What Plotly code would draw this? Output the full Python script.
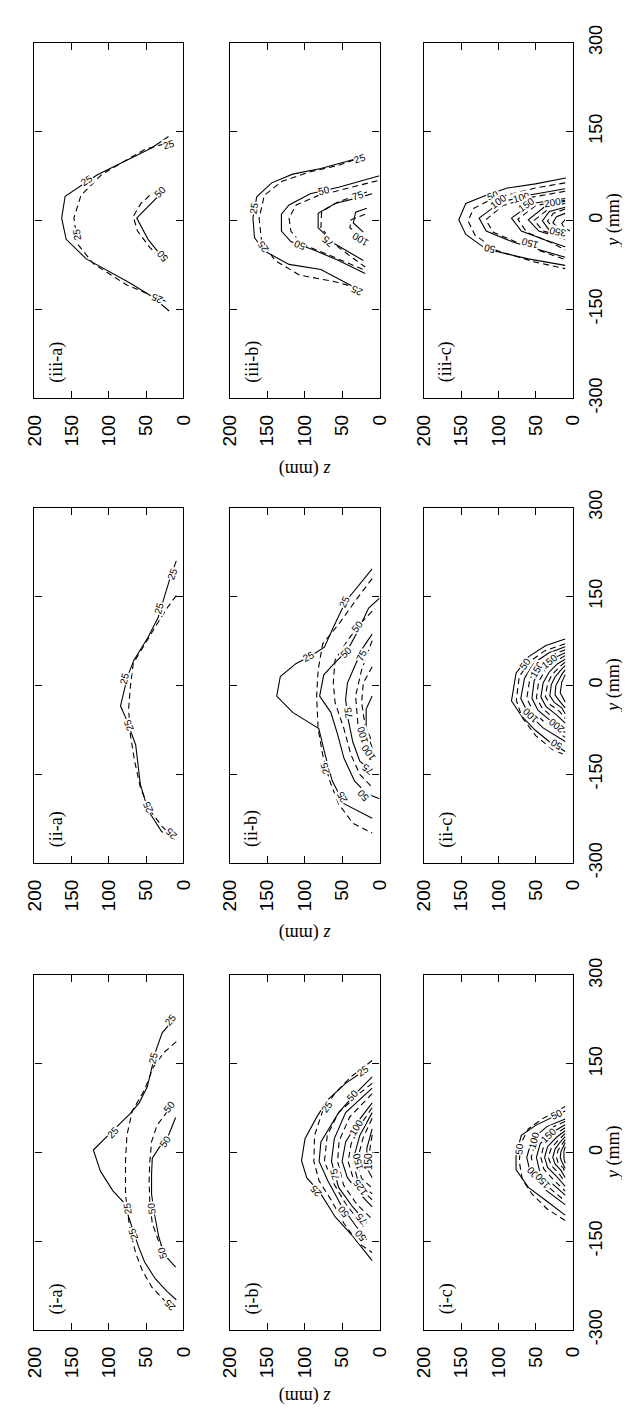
import math
import plotly.graph_objects as go

# ---------------- data: contour lines, (z mm, y mm) pairs ----------------
# level / style encoded in the name: S = solid, D = dashed
Z_TICKS = [0, 50, 100, 150, 200]
Y_TICKS = [-300, -150, 0, 150, 300]

# ----- panel (i-a)
IA_S25 = [(11.9,227.3),(28.4,202.6),(37,172.3),(43.6,139.3),(48.3,111.7),(59.3,84.2),(72,65),(92.4,40.2),
          (120.9,4.4),(111.4,-31.4),(94.8,-64.4),(80.6,-83.7),(74.9,-103),(68,-130),(60,-160),(52,-185),
          (38,-213),(22,-235),(9.5,-249)]
IA_D25 = [(9.5,187.7),(26,169.5),(40.3,144.8),(52.1,106.2),(68.7,70.4),(75.8,29.2),(77.7,-14.9),(77.7,-70),
          (73.5,-114),(70,-140),(64,-170),(55,-200),(42,-228),(24,-252)]
IA_S50 = [(10.4,59.4),(19,32),(33.2,7.1),(41.7,-9.4),(42.7,-37),(42.7,-70),(38.9,-103),(33.2,-141.5),
          (26,-171.8),(10.4,-193.8)]
IA_D50 = [(13.3,84.2),(24.6,65),(35.5,45.7),(42.7,18.1),(45,-14.9),(46,-48),(45,-86.5),(41.7,-119.5),
          (34.1,-147),(21.3,-174.5)]
IA_LABELS = [("25",16.6,224.6),("25",40.3,161),("25",94.8,34.7),("25",74.9,-94.7),("25",68,-138),
             ("25",19,-258),("50",19,78.7),("50",23.7,18),("50",42.5,-94.7),("50",28.4,-169)]

# ----- panel (ii-a)
IIA_S25 = [(9.5,210),(18,180),(26,147),(34,114),(47.4,81),(66.4,42.4),(74.9,15),(84.4,-34.7),(76.8,-56.7),
           (64,-100.8),(57.8,-166.8),(47.4,-211),(29.4,-246.6),(11.9,-260.4)]
IIA_D25 = [(9.5,151.4),(22,130),(35.5,103),(54.5,64.4),(67.3,37),(71.1,-1.7),(73.5,-40.2),(71.1,-84),
           (65.4,-128.3),(57.8,-172.3),(45,-210.9),(28.4,-238.4),(10.4,-260.4)]
IIA_LABELS = [("25",14,188),("25",33,130),("25",79.6,12),("25",73.5,-67.7),("25",47.4,-205),("25",16.6,-250)]

# ----- panel (iii-a)
IIIA_S25 = [(19.9,141.5),(42.7,122.2),(116,76.5),(158.8,40.7),(163.5,3.8),(157.4,-32),(130.4,-65),
            (71.1,-106),(42.7,-128),(19,-153)]
IIIA_D25 = [(26,129),(52,119.5),(109,78),(137.5,42.4),(147,4),(142,-40),(121,-73),(76,-109),(19,-139)]
IIIA_S50 = [(23.7,53.4),(45,26),(62.6,3.8),(47.4,-32),(28.4,-62)]
IIIA_D50 = [(35.5,53.4),(57,28.6),(67.3,6.6),(61.6,-18),(45,-45.7),(30.8,-65)]
IIIA_LABELS = [("25",19,128),("25",130,67),("25",143,-23.7),("25",35.5,-131),("50",30.8,49),("50",28.4,-59.5)]

# ----- panel (i-b)
IB_S25 = [(17,142),(45.3,117.2),(68.9,89.7),(83,62.2),(99.5,23.7),(104.2,-13.8),(97.2,-42.4),(78.3,-69.9),
          (59.4,-108.5),(35.8,-141.5),(9.9,-182.8)]
IB_D25 = [(9.9,155.8),(38.2,128.2),(59.4,100.7),(75.9,70.4),(86.8,29.2),(87.7,-14.9),(80.7,-47.9),(64.2,-81),
          (47.6,-119.5),(28.8,-152.5),(9.9,-169)]
IB_S50 = [(9.9,128.2),(33.5,98),(54.7,67.7),(78.3,18.1),(80.7,-14.9),(68.9,-47.9),(50,-92),(31.1,-125),(17,-147)]
IB_D50 = [(9.9,117.2),(26.4,100.7),(54.7,67.7),(69.8,29.2),(73.6,-14.9),(63.2,-47.9),(45.3,-86.5),(21.7,-125)]
IB_S75 = [(9.9,109),(45.3,67.7),(60.4,23.7),(64.2,-14.9),(54.7,-58.9),(35.8,-92),(17,-119.5)]
IB_D75 = [(9.9,100),(40,60),(54,20),(56,-15),(48,-55),(30,-88),(12,-110)]
IB_S100 = [(9.9,84.2),(26.4,56.7),(45.3,18.1),(50,-14.9),(42.9,-42.4),(26.4,-69.9),(9.9,-92)]
IB_D100 = [(9.9,76),(24,50),(38,15),(42,-15),(36,-40),(22,-65),(9.9,-80)]
IB_S125 = [(9.9,67.7),(26.4,29.2),(35.8,-14.9),(28.8,-47.9),(9.9,-69.9)]
IB_D125 = [(9.9,58),(22,25),(30,-14),(24,-44),(9.9,-60)]
IB_S150 = [(9.9,40.2),(17,7.1),(17,-25.9),(9.9,-42.4)]
IB_D150 = [(9.9,30),(13,5),(13,-20),(9.9,-32)]
IB_LABELS = [("25",21.7,139.3),("25",70,78),("50",36,96),("100",31,42),("150",29,-14.9),("150",14.6,-14.9),
             ("75",60,-37),("125",26,-60),("25",86,-65),("50",48,-100),("75",24,-112),("50",26,-140)]

# ----- panel (ii-b)
IIB_S25 = [(9.9,196.5),(28.8,167.9),(45.3,141.5),(61.8,97.4),(73.6,64.4),(92.5,49),(111.3,36.9),(132.5,14.8),
           (137.3,-18.2),(116,-45.7),(92.5,-65),(81.1,-73.2),(72.6,-117.3),(63.2,-161.3),(47.6,-199.9),(9.9,-224.6)]
IIB_D25 = [(9.9,180),(26.4,152.5),(54.7,103),(75.9,70),(82,25.9),(84,-18.2),(82,-73.2),(75.9,-117.3),
           (66.5,-161.3),(54.7,-199.9),(35.8,-232.9),(9.9,-249.4)]
IIB_S50 = [(0,147),(14.6,130.4),(28.8,91.9),(42.9,58.9),(60.4,36.9),(74.5,17.6),(80,-18.2),(65.1,-45.7),
           (55.7,-84.2),(47.6,-122.8),(33.5,-161.3),(17,-183.3),(0,-191.6)]
IIB_D50 = [(9.9,125),(26.4,103),(42.9,75.4),(59.4,42.4),(61.8,3.8),(59.4,-29.2),(47.6,-73.2),(38.2,-117.3),
           (26.4,-150.3),(9.9,-172.3)]
IIB_S75 = [(9.9,86.4),(21.7,64.4),(33.5,31.4),(42.9,3.8),(45.3,-23.7),(42.9,-51.2),(35.8,-95.3),(26.4,-128.3),
           (9.9,-144.8)]
IIB_D75 = [(9.9,75.4),(24,26),(32,-18.2),(28.8,-67.7),(19.3,-111.8),(9.9,-128.3)]
IIB_S100 = [(9.9,-18.2),(17.9,-40.2),(17.9,-73.2),(9.9,-106)]
IIB_D100 = [(9.9,31.4),(21.7,3.8),(24,-29.2),(19.3,-67.7),(9.9,-95.3)]
IIB_LABELS = [("25",47,142),("25",94.8,48),("50",30,100),("50",45.3,56),("75",24,50),("75",42,-45.7),
              ("100",23,-84.2),("100",15,-114.5),("75",16,-142),("25",73,-140),("25",50,-188),("50",22,-185)]

# ----- panel (iii-b)
IIIB_S25 = [(31,104),(78.3,87.5),(116,78),(144,63.3),(164,39.6),(169,3.8),(167,-29),(154.7,-51),(120.8,-74.3),
            (78.3,-83),(47.6,-103.5),(31,-114.5)]
IIIB_D25 = [(21.7,107.3),(54.7,93),(92.5,82),(130,66),(153.8,42.4),(160.8,3.8),(157.5,-34.7),(139.6,-67.7),
            (106.6,-92.5),(59.4,-103.5),(35.8,-111.8)]
IIIB_S50 = [(0,75.4),(54.7,56),(92.5,45),(120.8,26),(131,10.4),(131,-18),(118.4,-35.8),(87.7,-50),(54.7,-67.7),
            (19.3,-89.8)]
IIIB_D50 = [(2.8,67),(45.3,53.4),(83,41.3),(111.3,26),(120.8,3.8),(118.4,-18),(104,-40),(68.9,-57.8),(21.7,-83)]
IIIB_S75 = [(10,45),(24,39.6),(59.4,28.6),(82,12),(82,-12.7),(59.4,-40),(21.7,-67.7)]
IIIB_D75 = [(17,48),(54.7,31.4),(77.4,15),(78.3,-12.7),(54.7,-45.7),(19.3,-78.7)]
IIIB_S100 = [(17,20.4),(32,13.7),(35,-4.4),(21.7,-20)]
IIIB_D100 = [(19.3,10.4),(38.2,1),(39.6,-12.7),(28.8,-21)]
IIIB_LABELS = [("25",26.4,104),("50",73.6,50.6),("75",28.8,42.4),("25",168,20.4),("100",26.4,-32),
               ("75",68.9,-34.7),("50",106.6,-42),("25",156,-45),("25",31,-117.3)]

# ----- panel (i-c)
IC_S50 = [(10.4,70.4),(50.5,45.7),(69.3,29.2),(76.4,-3.9),(76.4,-28.6),(59.9,-58.9),(36.3,-81),(10.4,-105.7)]
IC_D50 = [(10.4,78),(40,58),(60,40),(70,15),(72,-15),(68,-45),(55,-70),(35,-95),(10.4,-115)]
IC_S100 = [(10.4,57),(35,44),(55,22),(62,-8),(57,-35),(40,-60),(10.4,-88)]
IC_D100 = [(10.4,53),(32,40),(50,20),(56,-8),(51,-33),(35,-56),(10.4,-82)]
IC_S150 = [(10.4,47),(28,34),(44,15),(49,-8),(45,-30),(30,-50),(10.4,-72)]
IC_D150 = [(10.4,42),(25,30),(39,13),(43,-8),(39,-28),(26,-46),(10.4,-65)]
IC_S200 = [(10.4,37),(22,26),(34,10),(38,-8),(34,-25),(22,-40),(10.4,-57)]
IC_D200 = [(10.4,32),(19,22),(29,8),(33,-8),(29,-22),(19,-35),(10.4,-50)]
IC_S250 = [(10.4,27),(17,18),(24,6),(27,-8),(24,-19),(16,-30),(10.4,-42)]
IC_D250 = [(10.4,22),(15,14),(20,4),(22,-8),(20,-17),(13,-26),(10.4,-35)]
IC_S300 = [(10.4,17),(13,10),(16,2),(17,-8),(15,-15),(10.4,-27)]
IC_S350 = [(10.4,10),(12,2),(12,-10),(10.4,-18)]
IC_LABELS = [("50",22,64),("50",72,7),("100",52,20),("150",33,29),("100",52,-38),("150",40,-48)]

# ----- panel (ii-c)
IIC_S50 = [(10.4,78),(36.3,67),(59.9,47.9),(76.4,20.3),(82.5,-26.5),(69.3,-51.2),(50.5,-76),(31.6,-95.3),(10.4,-111.8)]
IIC_D50 = [(10.4,70),(38,58),(58,40),(72,15),(76,-25),(68,-55),(50,-85),(28,-108),(10.4,-118)]
IIC_S100 = [(10.4,65),(32,55),(52,38),(65,12),(70,-22),(60,-48),(40,-72),(10.4,-95)]
IIC_D100 = [(10.4,60),(30,50),(47,34),(58,10),(62,-22),(53,-45),(35,-66),(10.4,-88)]
IIC_S150 = [(10.4,55),(27,45),(42,30),(52,8),(55,-22),(47,-42),(30,-60),(10.4,-80)]
IIC_D150 = [(10.4,50),(24,40),(37,26),(46,6),(49,-21),(41,-39),(26,-55),(10.4,-72)]
IIC_S200 = [(10.4,44),(21,36),(32,22),(40,4),(43,-20),(36,-36),(22,-50),(10.4,-64)]
IIC_D200 = [(10.4,39),(18,31),(28,18),(34,3),(37,-19),(30,-33),(18,-44),(10.4,-56)]
IIC_S250 = [(10.4,33),(16,26),(24,14),(29,1),(31,-18),(25,-29),(15,-38),(10.4,-48)]
IIC_S300 = [(10.4,26),(14,20),(19,9),(23,-1),(24,-16),(19,-25),(10.4,-38)]
IIC_S350 = [(10.4,18),(15,5),(17,-13),(13,-22),(10.4,-28)]
IIC_LABELS = [("50",64,37),("150",48,26),("150",31.6,40),("100",57,-51),("200",22,-68),("50",22,-100)]

# ----- panel (iii-c)
IIIC_S50 = [(9.4,71.5),(50.5,61.6),(88.2,54.5),(116.5,42.4),(143.9,28.6),(153.3,1),(143.9,-23.7),(116.5,-48.5),
            (59.9,-65),(10.4,-76)]
IIIC_D50 = [(10.4,63.3),(50.5,54.5),(107,36.9),(133,20.4),(141,-0.6),(131.6,-24.8),(102.4,-51),(50.5,-70.5),(10.4,-81.5)]
IIIC_S100 = [(10.4,53.4),(59.9,42.4),(97.6,30.3),(126,3.8),(116.5,-18),(78.8,-37.5),(10.4,-62.2)]
IIIC_D100 = [(10.4,49),(59.9,38),(94,25),(117,1),(107,-20),(70,-40),(10.4,-66)]
IIIC_S150 = [(10.4,36.9),(55.2,28.6),(82.5,3.8),(69.3,-18),(36.3,-33.6),(10.4,-44.6)]
IIIC_D150 = [(10.4,34),(50,25),(74,2),(62,-20),(30,-37),(10.4,-50)]
IIIC_S200 = [(10.4,32.4),(36.3,24.7),(59.9,1),(45.8,-18),(10.4,-32)]
IIIC_D200 = [(10.4,29),(32,20),(52,0),(40,-18),(10.4,-28)]
IIIC_S250 = [(10.4,22),(31.6,15),(40.9,-0.6),(31.6,-17),(10.4,-22)]
IIIC_D250 = [(10.4,19),(26,12),(34,-1),(26,-15),(10.4,-19)]
IIIC_S300 = [(10.4,11.8),(22,6),(26.9,-4),(19,-14),(10.4,-15)]
IIIC_S350 = [(10.4,1),(15,-5),(12,-12),(4,-18)]
IIIC_LABELS = [("50",107,42.4),("100",100,31.4),("100",69.3,38),("150",62.3,26),("200",27,30),("350",20,-20),
               ("150",58,-38),("50",112,-48.5)]

PANEL_NAMES = {"i-a": "(i-a)", "ii-a": "(ii-a)", "iii-a": "(iii-a)",
               "i-b": "(i-b)", "ii-b": "(ii-b)", "iii-b": "(iii-b)",
               "i-c": "(i-c)", "ii-c": "(ii-c)", "iii-c": "(iii-c)"}

PANELS = {
    "i-a": ([(IA_S25, 0), (IA_D25, 1), (IA_S50, 0), (IA_D50, 1)], IA_LABELS),
    "ii-a": ([(IIA_S25, 0), (IIA_D25, 1)], IIA_LABELS),
    "iii-a": ([(IIIA_S25, 0), (IIIA_D25, 1), (IIIA_S50, 0), (IIIA_D50, 1)], IIIA_LABELS),
    "i-b": ([(IB_S25, 0), (IB_D25, 1), (IB_S50, 0), (IB_D50, 1), (IB_S75, 0), (IB_D75, 1), (IB_S100, 0),
             (IB_D100, 1), (IB_S125, 0), (IB_D125, 1), (IB_S150, 0), (IB_D150, 1)], IB_LABELS),
    "ii-b": ([(IIB_S25, 0), (IIB_D25, 1), (IIB_S50, 0), (IIB_D50, 1), (IIB_S75, 0), (IIB_D75, 1),
              (IIB_S100, 0), (IIB_D100, 1)], IIB_LABELS),
    "iii-b": ([(IIIB_S25, 0), (IIIB_D25, 1), (IIIB_S50, 0), (IIIB_D50, 1), (IIIB_S75, 0), (IIIB_D75, 1),
               (IIIB_S100, 0), (IIIB_D100, 1)], IIIB_LABELS),
    "i-c": ([(IC_S50, 0), (IC_D50, 1), (IC_S100, 0), (IC_D100, 1), (IC_S150, 0), (IC_D150, 1), (IC_S200, 0),
             (IC_D200, 1), (IC_S250, 0), (IC_D250, 1), (IC_S300, 0), (IC_S350, 0)], IC_LABELS),
    "ii-c": ([(IIC_S50, 0), (IIC_D50, 1), (IIC_S100, 0), (IIC_D100, 1), (IIC_S150, 0), (IIC_D150, 1),
              (IIC_S200, 0), (IIC_D200, 1), (IIC_S250, 0), (IIC_S300, 0), (IIC_S350, 0)], IIC_LABELS),
    "iii-c": ([(IIIC_S50, 0), (IIIC_D50, 1), (IIIC_S100, 0), (IIIC_D100, 1), (IIIC_S150, 0), (IIIC_D150, 1),
               (IIIC_S200, 0), (IIIC_D200, 1), (IIIC_S250, 0), (IIIC_D250, 1), (IIIC_S300, 0), (IIIC_S350, 0)],
              IIIC_LABELS),
}

# ---------------- layout (pixels of the 630 x 1416 page) ----------------
W, H = 630, 1416
COL_PX = {"a": (16, 170), "b": (218, 373), "c": (419, 573)}
ROW_PX = {"iii": (17, 381), "ii": (493, 857), "i": (972, 1335)}
ZLAB_PX = {"iii": 454, "ii": 929, "i": 1403}
SERIF = "Liberation Serif, Times New Roman, serif"
SANS = "Liberation Sans, Arial, Helvetica, sans-serif"
DASH = "6px,4px"

PX_Z = (COL_PX["a"][1] - COL_PX["a"][0]) / 200.0
PX_Y = (ROW_PX["iii"][1] - ROW_PX["iii"][0]) / 600.0


def label_angle(zc, yc, lines):
    best, seg = 1e18, None
    for pts, _ in lines:
        for (z0, y0), (z1, y1) in zip(pts[:-1], pts[1:]):
            ax, ay = z0 * PX_Z, y0 * PX_Y
            bx, by = z1 * PX_Z, y1 * PX_Y
            px, py = zc * PX_Z, yc * PX_Y
            dx, dy = bx - ax, by - ay
            L = dx * dx + dy * dy
            t = 0 if L == 0 else max(0, min(1, ((px - ax) * dx + (py - ay) * dy) / L))
            d = (ax + t * dx - px) ** 2 + (ay + t * dy - py) ** 2
            if d < best:
                best, seg = d, (dx, dy)
    sx, sy = -seg[0], -seg[1]          # screen: z grows leftwards, y grows upwards
    a = math.degrees(math.atan2(sy, sx))
    while a > 0:
        a -= 180
    while a <= -180:
        a += 180
    return a


fig = go.Figure()
layout = dict(width=W, height=H, margin=dict(l=0, r=0, t=0, b=0), paper_bgcolor="white",
              plot_bgcolor="white", showlegend=False, font=dict(family=SANS, color="black"))
annotations = []

k = 0
for row in ["iii", "ii", "i"]:
    for col in ["a", "b", "c"]:
        k += 1
        key = f"{row}-{col}"
        xs = "" if k == 1 else str(k)
        lines, labels = PANELS[key]
        x0, x1 = COL_PX[col]
        y0, y1 = ROW_PX[row]
        layout[f"xaxis{xs}"] = dict(
            domain=[x0 / W, x1 / W], range=[200, 0], anchor=f"y{xs}",
            tickvals=Z_TICKS, ticktext=[str(v) for v in Z_TICKS], ticks="inside", ticklen=7,
            tickcolor="black", showline=True, linecolor="black", linewidth=1.2, mirror="ticks",
            showgrid=False, zeroline=False, tickangle=-90, ticklabelstandoff=8,
            tickfont=dict(family=SANS, size=19, color="black"), fixedrange=True)
        layout[f"yaxis{xs}"] = dict(
            domain=[1 - y1 / H, 1 - y0 / H], range=[-300, 300], anchor=f"x{xs}", side="right",
            tickvals=Y_TICKS, ticktext=[str(v) for v in Y_TICKS], ticks="inside", ticklen=7,
            tickcolor="black", showline=True, linecolor="black", linewidth=1.2, mirror="ticks",
            showgrid=False, zeroline=False, tickangle=-90, showticklabels=(col == "c"),
            ticklabelstandoff=6, tickfont=dict(family=SANS, size=18, color="black"), fixedrange=True)

        for pts, dashed in lines:
            fig.add_trace(go.Scatter(
                x=[p[0] for p in pts], y=[p[1] for p in pts], mode="lines",
                line=dict(color="black", width=1.1, dash=DASH if dashed else "solid"),
                xaxis=f"x{xs}", yaxis=f"y{xs}", hoverinfo="skip", showlegend=False))

        for text, zc, yc in labels:
            annotations.append(dict(
                x=zc, y=yc, xref=f"x{xs}", yref=f"y{xs}", text=text, showarrow=False,
                font=dict(family=SANS, size=10, color="black"), bgcolor="white", borderpad=0,
                textangle=label_angle(zc, yc, lines), xanchor="center", yanchor="middle"))

        annotations.append(dict(
            x=170, y=-277, xref=f"x{xs}", yref=f"y{xs}", text=PANEL_NAMES[key], showarrow=False,
            font=dict(family=SERIF, size=18, color="black"), textangle=-90,
            xanchor="center", yanchor="bottom"))

    # axis titles for this group
    annotations.append(dict(
        x=(COL_PX["b"][0] + COL_PX["b"][1]) / 2 / W, y=1 - ZLAB_PX[row] / H, xref="paper", yref="paper",
        text="<i>z</i> (mm)", showarrow=False, textangle=180,
        font=dict(family=SERIF, size=18, color="black"), xanchor="center", yanchor="middle"))
    annotations.append(dict(
        x=615 / W, y=1 - (ROW_PX[row][0] + ROW_PX[row][1]) / 2 / H, xref="paper", yref="paper",
        text="<i>y</i> (mm)", showarrow=False, textangle=-90,
        font=dict(family=SERIF, size=18, color="black"), xanchor="center", yanchor="middle"))

layout["annotations"] = annotations
fig.update_layout(**layout)
fig.write_html("out.html")
